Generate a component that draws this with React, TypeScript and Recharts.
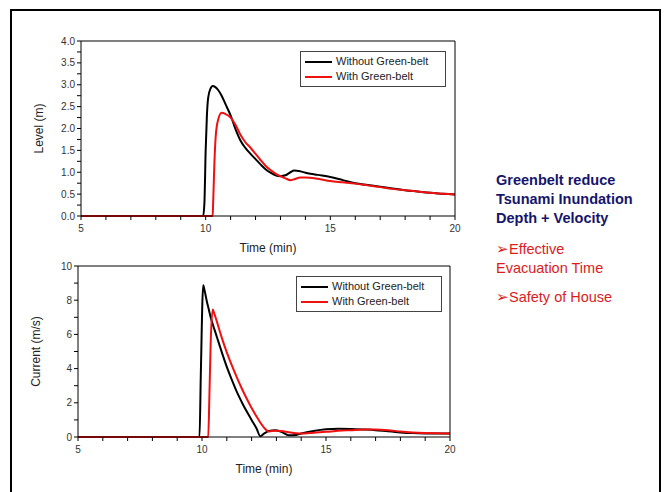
import { LineChart, Line, XAxis, YAxis, Legend } from "recharts"

// Level (m) vs time (min)
const levelTime = [5, 9.9, 9.95, 10.0, 10.05, 10.1, 10.2, 10.28, 10.3, 10.35, 10.4, 10.5, 10.64, 10.8, 11.0, 11.2, 11.4, 11.6, 11.8, 12.0, 12.2, 12.4, 12.6, 12.8, 13.0, 13.2, 13.4, 13.55, 13.8, 14.0, 14.5, 15, 15.5, 16, 16.5, 17, 17.5, 18, 18.5, 19, 19.5, 20]
const levelWithout = [0, 0, 0.3, 1.5, 2.3, 2.7, 2.92, 2.97, 2.97, 2.96, 2.94, 2.88, 2.75, 2.55, 2.3, 1.98, 1.72, 1.55, 1.42, 1.3, 1.18, 1.07, 0.99, 0.93, 0.91, 0.93, 1.0, 1.04, 1.02, 0.99, 0.94, 0.89, 0.82, 0.75, 0.71, 0.67, 0.63, 0.59, 0.56, 0.53, 0.51, 0.49]
const levelWith = [0, 0, 0, 0, 0, 0, 0, 0, 0.3, 1.2, 1.8, 2.2, 2.36, 2.33, 2.25, 2.08, 1.85, 1.68, 1.56, 1.42, 1.28, 1.15, 1.05, 0.97, 0.91, 0.86, 0.82, 0.84, 0.88, 0.88, 0.85, 0.8, 0.77, 0.74, 0.7, 0.66, 0.62, 0.59, 0.56, 0.53, 0.51, 0.49]

// Current (m/s) vs time (min)
const currentTime = [5, 9.9, 9.95, 10.05, 10.1, 10.2, 10.25, 10.3, 10.35, 10.43, 10.5, 10.6, 10.8, 11.0, 11.2, 11.4, 11.6, 11.8, 12.0, 12.2, 12.35, 12.5, 12.7, 12.95, 13.2, 13.5, 13.8, 14.0, 14.5, 15, 15.5, 16, 16.5, 17, 17.5, 18, 18.5, 19, 19.5, 20]
const currentWithout = [0, 0, 3.5, 8.88, 8.6, 7.9, 7.6, 7.3, 7.0, 6.6, 6.3, 5.85, 4.95, 4.1, 3.35, 2.65, 2.05, 1.5, 1.0, 0.5, 0.05, 0.2, 0.35, 0.39, 0.3, 0.1, 0.12, 0.2, 0.35, 0.45, 0.48, 0.47, 0.44, 0.4, 0.33, 0.27, 0.23, 0.21, 0.2, 0.2]
const currentWith = [0, 0, 0, 0, 0, 0, 0, 2.5, 5.5, 7.46, 7.2, 6.75, 5.8, 4.95, 4.2, 3.5, 2.85, 2.25, 1.7, 1.2, 0.85, 0.55, 0.32, 0.37, 0.35, 0.28, 0.22, 0.2, 0.25, 0.3, 0.36, 0.4, 0.44, 0.44, 0.4, 0.32, 0.27, 0.24, 0.22, 0.2]

const timeTicks = [5, 6, 7, 8, 9, 10, 11, 12, 13, 14, 15, 16, 17, 18, 19, 20]
const levelTicks = [0, 0.25, 0.5, 0.75, 1, 1.25, 1.5, 1.75, 2, 2.25, 2.5, 2.75, 3, 3.25, 3.5, 3.75, 4]
const currentTicks = [0, 1, 2, 3, 4, 5, 6, 7, 8, 9, 10]

const seriesNames = ["Without Green-belt", "With Green-belt"]
const notes = ["Greenbelt reduce", "Tsunami Inundation", "Depth + Velocity"]

const levelData = levelTime.map((t, i) => ({ t, without: levelWithout[i], with: levelWith[i] }))
const currentData = currentTime.map((t, i) => ({ t, without: currentWithout[i], with: currentWith[i] }))

const FONT = "'Liberation Sans', Arial, sans-serif"
const RED = "#f01010"
const tickStyle = { fontSize: 10, fill: "#333", fontFamily: FONT }
const labelStyle = { fontSize: 12, fill: "#222", fontFamily: FONT, textAnchor: "middle" as const }

function LegendBox() {
  return (
    <div style={{ border: "1px solid #444", background: "#fff", padding: "2px 4px", fontFamily: FONT, fontSize: 11, color: "#222", lineHeight: "15px" }}>
      {seriesNames.map((n, i) => (
        <div key={n} style={{ display: "flex", alignItems: "center" }}>
          <span style={{ display: "inline-block", width: 27, height: 2, background: i === 0 ? "#000" : RED, marginRight: 4 }} />
          {n}
        </div>
      ))}
    </div>
  )
}

function Panel({ data, ticks, domain, yLabel, fmt, legendPos, height, right }: any) {
  return (
    <LineChart width={470} height={height} data={data} margin={{ top: 33, right, left: 36, bottom: 10 }}>
      <XAxis
        dataKey="t"
        type="number"
        domain={[5, 20]}
        ticks={timeTicks}
        interval={0}
        tickSize={4}
        tickMargin={5}
        tick={tickStyle}
        tickFormatter={(v: number) => (v % 5 === 0 ? String(v) : "")}
        stroke="#000"
        height={34}
        label={{ value: "Time (min)", position: "insideBottom", offset: -2, style: labelStyle }}
      />
      <XAxis xAxisId="top" orientation="top" dataKey="t" type="number" domain={[5, 20]} ticks={timeTicks} interval={0} tickSize={4} tick={false} stroke="#000" height={8} />
      <YAxis
        type="number"
        domain={domain}
        ticks={ticks}
        interval={0}
        tickSize={4}
        tick={tickStyle}
        tickFormatter={fmt}
        stroke="#000"
        width={45}
        label={{ value: yLabel, angle: -90, position: "insideLeft", offset: 3, style: labelStyle }}
      />
      <YAxis yAxisId="right" orientation="right" type="number" domain={domain} ticks={ticks} interval={0} tickSize={4} tick={false} stroke="#000" width={10} />
      <Legend
        layout="horizontal"
        verticalAlign="middle"
        align="center"
        content={() => <LegendBox />}
        wrapperStyle={{ left: legendPos[0], top: legendPos[1], width: 146 }}
      />
      <Line type="monotone" dataKey="without" name={seriesNames[0]} stroke="#000" strokeWidth={2} dot={false} isAnimationActive={false} />
      <Line type="monotone" dataKey="with" name={seriesNames[1]} stroke={RED} strokeWidth={2} dot={false} isAnimationActive={false} />
    </LineChart>
  )
}

export default function App() {
  return (
    <div style={{ position: "absolute", left: 0, top: 0, width: 667, height: 492, background: "#fff", overflow: "hidden" }}>
      <div style={{ position: "absolute", left: 10, top: 9, width: 647, height: 500, border: "2px solid #000", borderBottom: "none" }} />
      <div style={{ position: "absolute", left: 0, top: 0 }}>
        <Panel
          data={levelData}
          ticks={levelTicks}
          domain={[0, 4]}
          yLabel="Level (m)"
          fmt={(v: number) => (v % 0.5 === 0 ? v.toFixed(1) : "")}
          legendPos={[300, 51]}
          height={260}
          right={5}
        />
      </div>
      <div style={{ position: "absolute", left: -3, top: 225 }}>
        <Panel
          data={currentData}
          ticks={currentTicks}
          domain={[0, 10]}
          yLabel="Current (m/s)"
          fmt={(v: number) => (v % 2 === 0 ? String(v) : "")}
          legendPos={[299, 51]}
          height={256}
          right={7}
        />
      </div>
      <div style={{ position: "absolute", left: 496, top: 171, fontFamily: FONT, fontSize: 14.5, lineHeight: "19px" }}>
        {notes.map((n) => (
          <div key={n} style={{ color: "#15156b", fontWeight: "bold" }}>{n}</div>
        ))}
        <div style={{ color: "#dd1c1c", marginTop: 12 }}>➢Effective<br />Evacuation Time</div>
        <div style={{ color: "#dd1c1c", marginTop: 10 }}>➢Safety of House</div>
      </div>
    </div>
  )
}
